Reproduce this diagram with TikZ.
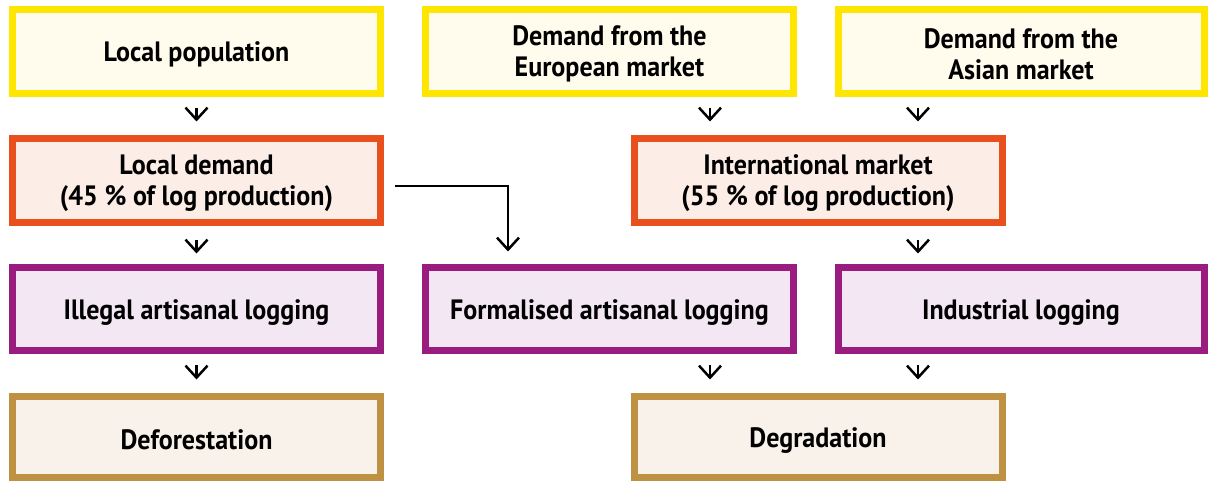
\documentclass[tikz,border=0pt]{standalone}
\usepackage{fontspec}
\setmainfont{PT Sans}[FakeStretch=0.93]
\usetikzlibrary{arrows.meta,calc}
\definecolor{yelB}{HTML}{FFE600}
\definecolor{yelF}{HTML}{FFFCEE}
\definecolor{orB}{HTML}{E8501E}
\definecolor{orF}{HTML}{FDEDE7}
\definecolor{puB}{HTML}{9A1C7F}
\definecolor{puF}{HTML}{F3E7F3}
\definecolor{goB}{HTML}{BE9143}
\definecolor{goF}{HTML}{F8F2EA}
\newcommand{\toppad}{\rule{0pt}{25.5pt}}
\begin{document}
\begin{tikzpicture}[x=1pt,y=-1pt,
  box/.style={minimum width=368pt, minimum height=84pt, line width=7pt, align=center,
    inner sep=0pt, font=\bfseries\fontsize{28}{31}\selectfont},
  onel/.style={execute at begin node={\rule{0pt}{26pt}}},
  ybox/.style={box, draw=yelB, fill=yelF},
  obox/.style={box, draw=orB, fill=orF},
  pbox/.style={box, draw=puB, fill=puF, onel},
  gbox/.style={box, draw=goB, fill=goF, minimum height=81pt, onel},
  tipstyle/.style={-{Straight Barb[length=12pt,width=22pt]}, line width=2.5pt},
  smallarr/.style={tipstyle, shorten <=11pt, shorten >=13.5pt},
  midarr/.style={tipstyle, shorten <=14pt, shorten >=10.5pt}
]
\useasboundingbox (0,0) rectangle (1208,481);
\fill[white] (0,0) rectangle (1208,481);
% row 1
\node[ybox, onel] (lp) at (196.5,51.5) {Local population};
\node[ybox] (eu) at (609.5,51.5) {\toppad Demand from the\\European market};
\node[ybox, minimum width=366pt] (as) at (1021,51.5) {\toppad Demand from the\\Asian market};
% row 2
\node[obox] (ld) at (196.5,180.5) {\toppad Local demand\\(45 \% of log production)};
\node[obox] (im) at (818,180.5) {\toppad International market\\(55 \% of log production)};
% row 3
\node[pbox, minimum height=83pt] (il) at (196.5,309) {Illegal artisanal logging};
\node[pbox, minimum height=83pt] (fo) at (609.5,309) {Formalised artisanal logging};
\node[pbox, minimum height=83pt, minimum width=366pt] (in) at (1021,309) {Industrial logging};
% row 4
\node[gbox] (de) at (196.5,437) {Deforestation};
\node[gbox] (dg) at (818,437) {Degradation};
% arrow columns
\coordinate (cx0) at (508,0);
\coordinate (cx1) at (710,0);
\coordinate (cx2) at (918,0);
% arrows
\draw[smallarr] (lp) -- (ld);
\draw[smallarr] (eu.south -| cx1) -- (im.north -| cx1);
\draw[smallarr] (as.south -| cx2) -- (im.north -| cx2);
\draw[midarr] (ld) -- (il);
\draw[midarr] (im.south -| cx2) -- (in.north -| cx2);
\draw[smallarr] (il) -- (de);
\draw[smallarr] (fo.south -| cx1) -- (dg.north -| cx1);
\draw[smallarr] (in.south -| cx2) -- (dg.north -| cx2);
\draw[tipstyle, shorten >=12.5pt] ([xshift=10.5pt,yshift=-5.5pt]ld.east) -| (fo.north -| cx0);
\end{tikzpicture}
\end{document}
